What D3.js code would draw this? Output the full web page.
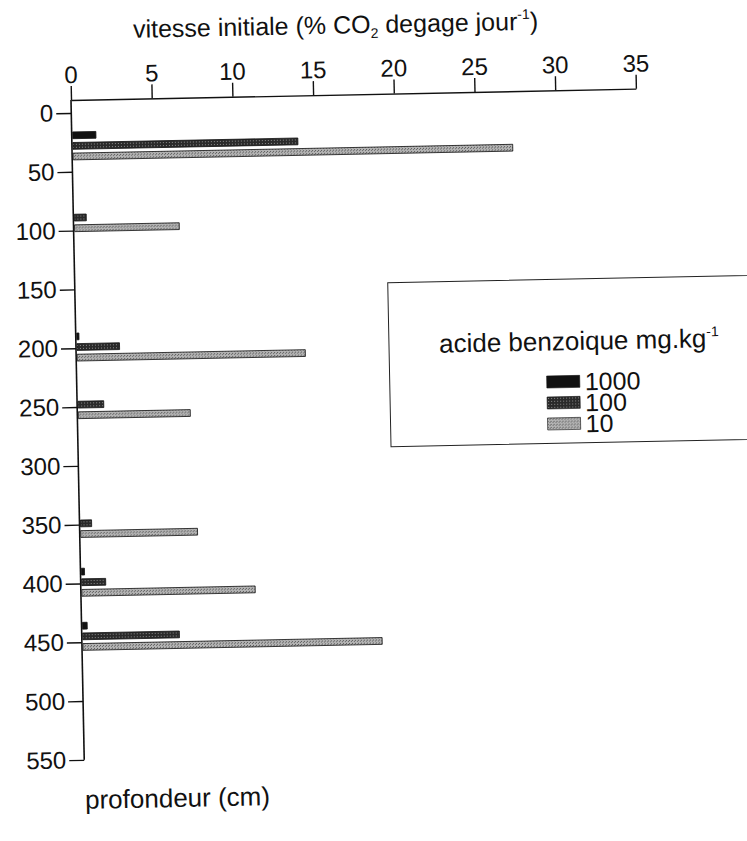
<!DOCTYPE html>
<html>
<head>
<meta charset="utf-8">
<script src="https://cdn.jsdelivr.net/npm/d3@7"></script>
<style>
  html, body { margin: 0; padding: 0; background: #fff; }
  svg { display: block; }
  text { font-family: "Liberation Sans", Arial, Helvetica, sans-serif; fill: #111; }
</style>
</head>
<body>
<svg id="chart" width="747" height="841"></svg>
<script>
// ---- data ----
const depths = [28, 89, 199, 248, 349, 399, 445];          // profondeur (cm), group centres
const series = ["1000", "100", "10"];                         // acide benzoique mg.kg-1
const values1000 = [1.5, 0, 0.2, 0, 0, 0.25, 0.35];
const values100  = [14.0, 0.8, 2.7, 1.65, 0.75, 1.55, 6.05];
const values10   = [27.3, 6.55, 14.2, 7.0, 7.3, 10.8, 18.6];
const xTicks = [0, 5, 10, 15, 20, 25, 30, 35];
const yTicks = [0, 50, 100, 150, 200, 250, 300, 350, 400, 450, 500, 550];

const valuesBySeries = { "1000": values1000, "100": values100, "10": values10 };
const rows = depths.map((d, i) => ({ depth: d, vals: series.map(s => ({ key: s, v: valuesBySeries[s][i] })) }));

const svg = d3.select("#chart");
const defs = svg.append("defs");

// halftone-like textures of the scanned original
const p100 = defs.append("pattern").attr("id", "pat100").attr("width", 3).attr("height", 3).attr("patternUnits", "userSpaceOnUse");
p100.append("rect").attr("width", 3).attr("height", 3).attr("fill", "#2a2a2a");
p100.append("rect").attr("x", 1).attr("y", 1).attr("width", 1).attr("height", 1).attr("fill", "#8a8a8a");
const p10 = defs.append("pattern").attr("id", "pat10").attr("width", 3).attr("height", 3).attr("patternUnits", "userSpaceOnUse");
p10.append("rect").attr("width", 3).attr("height", 3).attr("fill", "#b4b4b4");
p10.append("rect").attr("x", 0).attr("y", 0).attr("width", 1).attr("height", 1).attr("fill", "#555");
p10.append("rect").attr("x", 2).attr("y", 1).attr("width", 1).attr("height", 1).attr("fill", "#666");
const fills = { "1000": "#111", "100": "url(#pat100)", "10": "url(#pat10)" };

// whole figure slightly rotated, as in the scan
const g = svg.append("g").attr("transform", "translate(71,100) rotate(-1.15)");

const x = d3.scaleLinear().domain([0, 35]).range([0, 565]);
const y = d3.scaleLinear().domain([0, 550]).range([13, 660]);
const band = d3.scaleBand().domain(series).range([-14, 14]).paddingInner(0.36).paddingOuter(0);

// top axis
const xAxis = g.append("g").attr("class", "xaxis")
  .call(d3.axisTop(x).tickValues(xTicks).tickSize(14).tickSizeOuter(0).tickPadding(3).tickFormat(d3.format("d")));
xAxis.selectAll("text").style("font-size", "24px").attr("fill", "#111");
xAxis.selectAll("line, path").attr("stroke", "#111").attr("stroke-width", 1.4);

// left axis
const yAxis = g.append("g").attr("class", "yaxis")
  .call(d3.axisLeft(y).tickValues(yTicks).tickSize(15).tickSizeOuter(0).tickPadding(3).tickFormat(d3.format("d")));
yAxis.select(".domain").remove();
yAxis.selectAll("text").style("font-size", "24px").attr("fill", "#111");
yAxis.selectAll("line").attr("stroke", "#111").attr("stroke-width", 1.4);
g.append("line").attr("x1", 0).attr("x2", 0).attr("y1", 0).attr("y2", y(550))
  .attr("stroke", "#111").attr("stroke-width", 1.6);

// bars
const grp = g.append("g").selectAll("g").data(rows).join("g")
  .attr("transform", d => `translate(0,${y(d.depth)})`);
grp.selectAll("rect").data(d => d.vals.filter(e => e.v > 0)).join("rect")
  .attr("x", 1)
  .attr("y", e => band(e.key))
  .attr("width", e => Math.max(1, x(e.v) - 1))
  .attr("height", band.bandwidth())
  .attr("fill", e => fills[e.key])
  .attr("stroke", "#111").attr("stroke-width", 0.8);

// axis titles
const t = g.append("text").attr("x", 266).attr("y", -61).attr("text-anchor", "middle").style("font-size", "25px");
t.append("tspan").text("vitesse initiale (% CO");
t.append("tspan").attr("dy", 5).style("font-size", "14px").text("2");
t.append("tspan").attr("dy", -5).text(" degage jour");
t.append("tspan").attr("dy", -11).style("font-size", "14px").text("-1");
t.append("tspan").attr("dy", 11).text(")");

g.append("text").attr("x", 0).attr("y", 709).style("font-size", "26px").text("profondeur (cm)");

// legend
const lg = g.append("g");
lg.append("rect").attr("x", 313).attr("y", 189).attr("width", 420).attr("height", 164)
  .attr("fill", "#fff").attr("stroke", "#222").attr("stroke-width", 1);
const lt = lg.append("text").attr("x", 503).attr("y", 260).attr("text-anchor", "middle").style("font-size", "26px");
lt.append("tspan").text("acide benzoique mg.kg");
lt.append("tspan").attr("dy", -11).style("font-size", "14px").text("-1");
const li = lg.selectAll("g.item").data(series).join("g").attr("class", "item")
  .attr("transform", (d, i) => `translate(470,${291.5 + i * 21})`);
li.append("rect").attr("x", 0).attr("y", -6).attr("width", 33).attr("height", 12)
  .attr("fill", d => fills[d]).attr("stroke", "#111").attr("stroke-width", 0.6);
li.append("text").attr("x", 38).attr("y", 9).style("font-size", "25px").text(d => d);
</script>
</body>
</html>
